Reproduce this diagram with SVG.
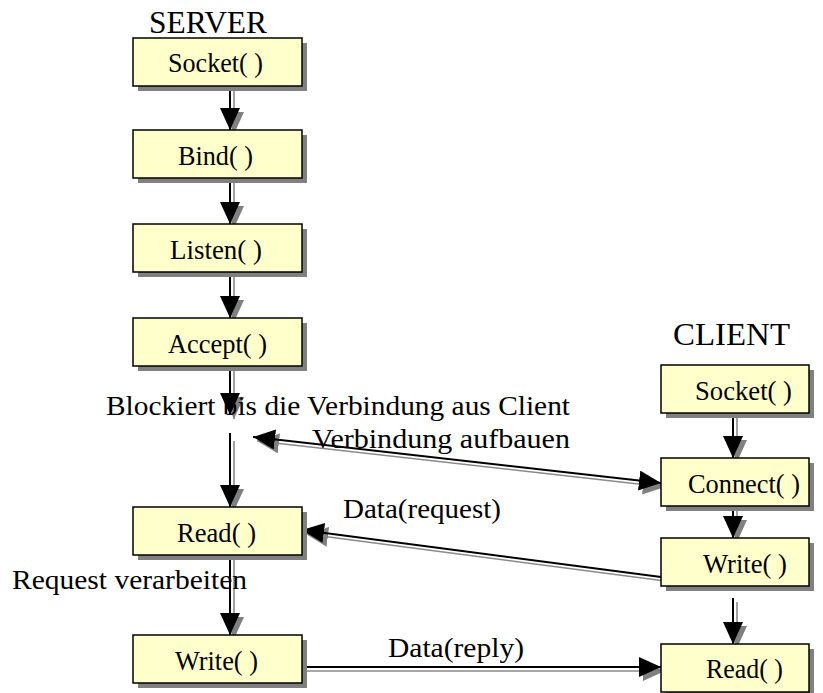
<svg xmlns="http://www.w3.org/2000/svg" width="823" height="693" viewBox="0 0 823 693">
  <style>
    .box { fill: #FFFFCC; stroke: #000; stroke-width: 1.5; }
    .shadow { fill: #808080; }
    .lbl { font-family: "Liberation Serif", "Times New Roman", serif; font-size: 27px; fill: #000; }
    .head { font-family: "Liberation Serif", "Times New Roman", serif; font-size: 31px; fill: #000; }
    .ln { fill: none; stroke: #000; stroke-width: 2; }
    .ln-s { fill: none; stroke: #8a8a8a; stroke-width: 1.6; }
  </style>
  <defs>
    <marker id="ah" viewBox="0 0 22 20" markerWidth="22" markerHeight="20" refX="22" refY="10" orient="auto-start-reverse" markerUnits="userSpaceOnUse">
      <path d="M0,0 L22,10 L0,20 z" fill="#000"/>
    </marker>
    <marker id="ahs" viewBox="0 0 22 20" markerWidth="22" markerHeight="20" refX="22" refY="10" orient="auto-start-reverse" markerUnits="userSpaceOnUse">
      <path d="M0,0 L22,10 L0,20 z" fill="#808080"/>
    </marker>
  </defs>
  <rect width="823" height="693" fill="#fff"/>

  <!-- headings -->
  <text class="head" x="149" y="33" textLength="118" lengthAdjust="spacingAndGlyphs">SERVER</text>
  <text class="head" x="673" y="345" textLength="117" lengthAdjust="spacingAndGlyphs">CLIENT</text>

  <!-- connectors: gray shadow copy first, black on top -->
  <g id="connectors">
    <g transform="translate(4,4)">
      <line class="ln-s" x1="230" y1="82" x2="230" y2="130" marker-end="url(#ahs)"/>
      <line class="ln-s" x1="230" y1="176" x2="230" y2="224" marker-end="url(#ahs)"/>
      <line class="ln-s" x1="230" y1="270" x2="230" y2="318" marker-end="url(#ahs)"/>
      <line class="ln-s" x1="230" y1="364" x2="230" y2="415" marker-end="url(#ahs)"/>
      <line class="ln-s" x1="230" y1="437" x2="230" y2="507" marker-end="url(#ahs)"/>
      <line class="ln-s" x1="230" y1="553" x2="230" y2="635" marker-end="url(#ahs)"/>
      <line class="ln-s" x1="733" y1="410" x2="733" y2="458" marker-end="url(#ahs)"/>
      <line class="ln-s" x1="733" y1="504" x2="733" y2="538" marker-end="url(#ahs)"/>
      <line class="ln-s" x1="733" y1="598" x2="733" y2="644" marker-end="url(#ahs)"/>
      <line class="ln-s" x1="253" y1="437" x2="661" y2="483" marker-start="url(#ahs)" marker-end="url(#ahs)"/>
      <line class="ln-s" x1="661" y1="577" x2="302" y2="530" marker-end="url(#ahs)"/>
      <line class="ln-s" x1="302" y1="667" x2="661" y2="667" marker-end="url(#ahs)"/>
    </g>
    <line class="ln" x1="230" y1="82" x2="230" y2="130" marker-end="url(#ah)"/>
    <line class="ln" x1="230" y1="176" x2="230" y2="224" marker-end="url(#ah)"/>
    <line class="ln" x1="230" y1="270" x2="230" y2="318" marker-end="url(#ah)"/>
    <line class="ln" x1="230" y1="364" x2="230" y2="415" marker-end="url(#ah)"/>
    <line class="ln" x1="230" y1="433" x2="230" y2="507" marker-end="url(#ah)"/>
    <line class="ln" x1="230" y1="553" x2="230" y2="635" marker-end="url(#ah)"/>
    <line class="ln" x1="733" y1="410" x2="733" y2="458" marker-end="url(#ah)"/>
    <line class="ln" x1="733" y1="504" x2="733" y2="538" marker-end="url(#ah)"/>
    <line class="ln" x1="733" y1="598" x2="733" y2="644" marker-end="url(#ah)"/>
    <line class="ln" x1="253" y1="437" x2="661" y2="483" marker-start="url(#ah)" marker-end="url(#ah)"/>
    <line class="ln" x1="661" y1="577" x2="302" y2="530" marker-end="url(#ah)"/>
    <line class="ln" x1="302" y1="667" x2="661" y2="667" marker-end="url(#ah)"/>
  </g>

  <!-- connector labels and notes -->
  <text class="lbl" x="106" y="415" textLength="464" lengthAdjust="spacingAndGlyphs">Blockiert bis die Verbindung aus Client</text>
  <text class="lbl" x="312" y="448" textLength="258" lengthAdjust="spacingAndGlyphs">Verbindung aufbauen</text>
  <text class="lbl" x="343" y="518" textLength="158" lengthAdjust="spacingAndGlyphs">Data(request)</text>
  <text class="lbl" x="12" y="589" textLength="235" lengthAdjust="spacingAndGlyphs">Request verarbeiten</text>
  <text class="lbl" x="388" y="657" textLength="136" lengthAdjust="spacingAndGlyphs">Data(reply)</text>

  <!-- server nodes -->
  <g id="srv-socket">
    <rect class="shadow" x="138" y="43" width="169" height="48"/>
    <rect class="box" x="133" y="38" width="169" height="48"/>
    <text class="lbl" x="168" y="72" textLength="95" lengthAdjust="spacingAndGlyphs">Socket( )</text>
  </g>
  <g id="srv-bind">
    <rect class="shadow" x="138" y="135" width="169" height="48"/>
    <rect class="box" x="133" y="130" width="169" height="48"/>
    <text class="lbl" x="178" y="165" textLength="75" lengthAdjust="spacingAndGlyphs">Bind( )</text>
  </g>
  <g id="srv-listen">
    <rect class="shadow" x="138" y="229" width="169" height="48"/>
    <rect class="box" x="133" y="224" width="169" height="48"/>
    <text class="lbl" x="170" y="259" textLength="92" lengthAdjust="spacingAndGlyphs">Listen( )</text>
  </g>
  <g id="srv-accept">
    <rect class="shadow" x="138" y="323" width="169" height="48"/>
    <rect class="box" x="133" y="318" width="169" height="48"/>
    <text class="lbl" x="168" y="353" textLength="99" lengthAdjust="spacingAndGlyphs">Accept( )</text>
  </g>
  <g id="srv-read">
    <rect class="shadow" x="138" y="512" width="169" height="48"/>
    <rect class="box" x="133" y="507" width="169" height="48"/>
    <text class="lbl" x="177" y="542" textLength="79" lengthAdjust="spacingAndGlyphs">Read( )</text>
  </g>
  <g id="srv-write">
    <rect class="shadow" x="138" y="640" width="169" height="48"/>
    <rect class="box" x="133" y="635" width="169" height="48"/>
    <text class="lbl" x="175" y="670" textLength="83" lengthAdjust="spacingAndGlyphs">Write( )</text>
  </g>

  <!-- client nodes -->
  <g id="cli-socket">
    <rect class="shadow" x="666" y="370" width="148" height="48"/>
    <rect class="box" x="661" y="365" width="148" height="48"/>
    <text class="lbl" x="695" y="400" textLength="97" lengthAdjust="spacingAndGlyphs">Socket( )</text>
  </g>
  <g id="cli-connect">
    <rect class="shadow" x="666" y="463" width="148" height="48"/>
    <rect class="box" x="661" y="458" width="148" height="48"/>
    <text class="lbl" x="688" y="493" textLength="112" lengthAdjust="spacingAndGlyphs">Connect( )</text>
  </g>
  <g id="cli-write">
    <rect class="shadow" x="666" y="543" width="148" height="48"/>
    <rect class="box" x="661" y="538" width="148" height="48"/>
    <text class="lbl" x="703" y="573" textLength="84" lengthAdjust="spacingAndGlyphs">Write( )</text>
  </g>
  <g id="cli-read">
    <rect class="shadow" x="666" y="649" width="148" height="48"/>
    <rect class="box" x="661" y="644" width="148" height="48"/>
    <text class="lbl" x="706" y="678" textLength="77" lengthAdjust="spacingAndGlyphs">Read( )</text>
  </g>
</svg>
